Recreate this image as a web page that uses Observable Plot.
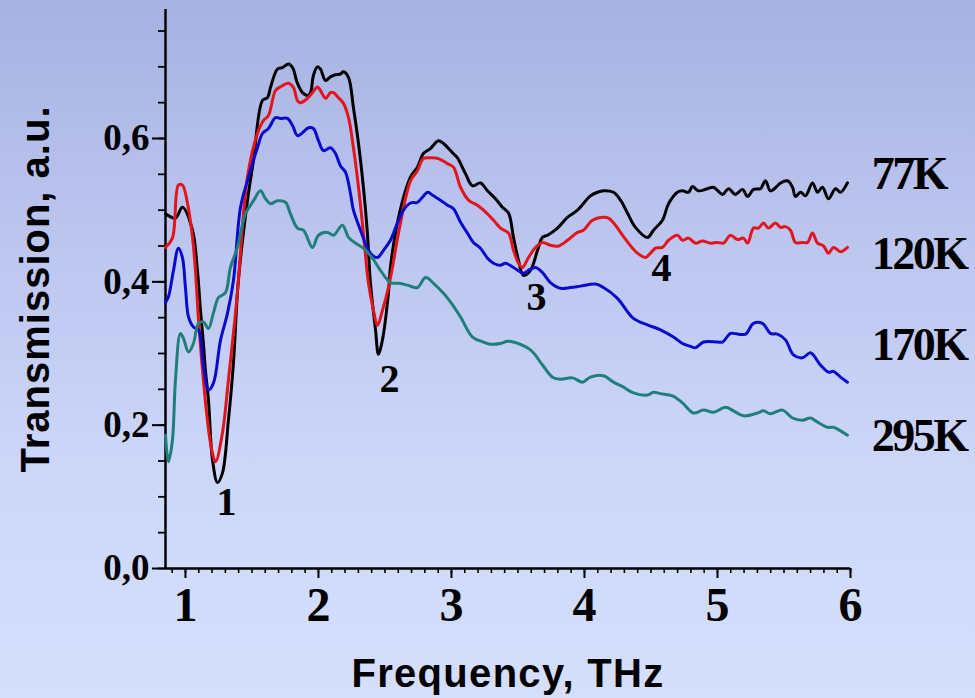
<!DOCTYPE html>
<html>
<head>
<meta charset="utf-8">
<script src="https://cdn.jsdelivr.net/npm/d3@7"></script>
<script src="https://cdn.jsdelivr.net/npm/@observablehq/plot@0.6"></script>
<style>
  html, body { margin: 0; padding: 0; }
  body {
    width: 975px; height: 698px; overflow: hidden;
    background: linear-gradient(to bottom, #a8b2e2 0%, #bcc6ef 35%, #ccd6f8 65%, #d5dffc 100%);
  }
  #chart svg { display: block; }
</style>
</head>
<body>
<div id="chart"></div>
<script>
// Terahertz transmission spectra at four temperatures: [frequency (THz), transmission (a.u.)]
const t77 = [
  [0.850,0.495],[0.925,0.489],[0.977,0.504],[1.053,0.472],[1.090,0.416],[1.113,0.360],[1.135,0.314],[1.150,0.277],
  [1.173,0.235],[1.203,0.152],[1.241,0.120],[1.278,0.133],[1.323,0.207],[1.361,0.287],[1.398,0.402],[1.466,0.513],
  [1.511,0.569],[1.579,0.653],[1.617,0.657],[1.639,0.671],[1.692,0.697],[1.729,0.699],[1.774,0.704],[1.805,0.699],
  [1.842,0.677],[1.880,0.664],[1.917,0.660],[1.940,0.664],[1.962,0.688],[1.992,0.700],[2.015,0.697],[2.053,0.681],
  [2.090,0.686],[2.128,0.689],[2.165,0.690],[2.188,0.693],[2.226,0.685],[2.263,0.643],[2.301,0.593],[2.338,0.532],
  [2.368,0.468],[2.391,0.398],[2.429,0.333],[2.451,0.299],[2.481,0.319],[2.526,0.384],[2.541,0.420],[2.602,0.490],
  [2.692,0.546],[2.744,0.560],[2.789,0.579],[2.842,0.586],[2.902,0.597],[2.940,0.593],[3.008,0.580],[3.045,0.573],
  [3.105,0.551],[3.158,0.534],[3.218,0.538],[3.271,0.527],[3.331,0.516],[3.383,0.504],[3.429,0.496],[3.466,0.462],
  [3.504,0.430],[3.541,0.409],[3.594,0.416],[3.647,0.444],[3.684,0.462],[3.722,0.465],[3.797,0.475],[3.872,0.490],
  [3.947,0.500],[4.045,0.520],[4.098,0.525],[4.143,0.527],[4.218,0.525],[4.271,0.514],[4.323,0.496],[4.383,0.476],
  [4.474,0.462],[4.519,0.472],[4.586,0.486],[4.632,0.509],[4.699,0.525],[4.737,0.527],[4.782,0.525],[4.812,0.533],
  [4.857,0.527],[4.925,0.530],[4.970,0.532],[5.038,0.522],[5.083,0.530],[5.135,0.522],[5.188,0.529],[5.226,0.519],
  [5.271,0.529],[5.323,0.530],[5.361,0.541],[5.398,0.527],[5.451,0.534],[5.474,0.538],[5.526,0.541],[5.564,0.532],
  [5.586,0.519],[5.624,0.525],[5.662,0.520],[5.714,0.538],[5.752,0.525],[5.789,0.532],[5.835,0.516],[5.887,0.530],
  [5.925,0.525],[5.977,0.538]
];
const t120 = [
  [0.850,0.448],[0.902,0.461],[0.947,0.535],[0.977,0.535],[1.015,0.510],[1.053,0.462],[1.075,0.416],[1.098,0.347],
  [1.128,0.277],[1.165,0.207],[1.195,0.168],[1.226,0.149],[1.278,0.189],[1.323,0.263],[1.376,0.356],[1.398,0.402],
  [1.466,0.546],[1.541,0.607],[1.586,0.625],[1.624,0.632],[1.677,0.667],[1.714,0.672],[1.774,0.677],[1.812,0.671],
  [1.842,0.653],[1.865,0.650],[1.917,0.656],[1.955,0.664],[1.992,0.672],[2.015,0.667],[2.053,0.656],[2.090,0.664],
  [2.113,0.664],[2.150,0.657],[2.188,0.649],[2.226,0.629],[2.263,0.587],[2.301,0.532],[2.338,0.468],[2.376,0.398],
  [2.414,0.360],[2.444,0.339],[2.481,0.360],[2.526,0.392],[2.556,0.420],[2.602,0.468],[2.692,0.541],[2.744,0.555],
  [2.789,0.572],[2.842,0.573],[2.902,0.572],[2.970,0.565],[3.015,0.560],[3.068,0.532],[3.128,0.514],[3.195,0.507],
  [3.241,0.500],[3.316,0.486],[3.368,0.475],[3.429,0.468],[3.466,0.444],[3.504,0.426],[3.534,0.420],[3.579,0.434],
  [3.632,0.448],[3.684,0.455],[3.744,0.451],[3.805,0.450],[3.872,0.458],[3.947,0.469],[3.992,0.472],[4.060,0.486],
  [4.135,0.490],[4.180,0.489],[4.233,0.479],[4.286,0.465],[4.331,0.454],[4.398,0.440],[4.459,0.434],[4.496,0.440],
  [4.534,0.447],[4.586,0.448],[4.632,0.458],[4.699,0.465],[4.737,0.458],[4.782,0.461],[4.835,0.454],[4.887,0.457],
  [4.947,0.454],[5.000,0.455],[5.045,0.454],[5.098,0.465],[5.150,0.459],[5.195,0.461],[5.226,0.454],[5.271,0.475],
  [5.308,0.475],[5.346,0.482],[5.383,0.475],[5.436,0.482],[5.474,0.476],[5.511,0.477],[5.549,0.472],[5.586,0.455],
  [5.639,0.455],[5.677,0.455],[5.714,0.468],[5.752,0.454],[5.797,0.450],[5.835,0.440],[5.872,0.448],[5.925,0.442],
  [5.977,0.448]
];
const t170 = [
  [0.850,0.371],[0.872,0.379],[0.910,0.416],[0.947,0.447],[0.977,0.434],[1.000,0.392],[1.023,0.351],[1.060,0.337],
  [1.098,0.333],[1.135,0.284],[1.173,0.249],[1.211,0.259],[1.263,0.318],[1.316,0.356],[1.361,0.402],[1.414,0.504],
  [1.474,0.546],[1.541,0.587],[1.579,0.607],[1.624,0.614],[1.677,0.629],[1.714,0.628],[1.767,0.628],[1.805,0.618],
  [1.842,0.604],[1.880,0.608],[1.925,0.615],[1.962,0.614],[2.000,0.597],[2.038,0.583],[2.090,0.587],[2.128,0.579],
  [2.165,0.562],[2.203,0.553],[2.241,0.523],[2.263,0.500],[2.316,0.472],[2.368,0.447],[2.406,0.437],[2.444,0.434],
  [2.489,0.444],[2.541,0.458],[2.594,0.482],[2.639,0.500],[2.692,0.510],[2.744,0.511],[2.782,0.518],[2.820,0.525],
  [2.865,0.520],[2.917,0.514],[2.970,0.507],[3.015,0.502],[3.068,0.483],[3.120,0.468],[3.165,0.455],[3.218,0.447],
  [3.271,0.433],[3.316,0.426],[3.368,0.423],[3.406,0.426],[3.466,0.420],[3.541,0.412],[3.579,0.416],[3.632,0.420],
  [3.684,0.413],[3.744,0.399],[3.820,0.391],[3.895,0.392],[3.970,0.394],[4.083,0.397],[4.143,0.392],[4.248,0.377],
  [4.368,0.349],[4.474,0.340],[4.571,0.333],[4.669,0.323],[4.737,0.314],[4.797,0.310],[4.835,0.308],[4.895,0.316],
  [5.000,0.316],[5.038,0.316],[5.098,0.328],[5.158,0.327],[5.211,0.327],[5.271,0.342],[5.338,0.342],[5.398,0.328],
  [5.451,0.327],[5.511,0.319],[5.571,0.298],[5.639,0.294],[5.699,0.301],[5.774,0.284],[5.835,0.274],[5.872,0.275],
  [5.925,0.267],[5.977,0.260]
];
const t295 = [
  [0.850,0.186],[0.872,0.149],[0.902,0.179],[0.925,0.263],[0.962,0.328],[0.985,0.321],[1.023,0.302],[1.060,0.314],
  [1.098,0.342],[1.135,0.344],[1.173,0.335],[1.211,0.357],[1.248,0.378],[1.301,0.385],[1.338,0.420],[1.391,0.448],
  [1.451,0.495],[1.511,0.513],[1.564,0.527],[1.602,0.516],[1.639,0.509],[1.692,0.513],[1.752,0.511],[1.789,0.495],
  [1.842,0.475],[1.887,0.472],[1.955,0.448],[2.000,0.465],[2.068,0.469],[2.113,0.465],[2.180,0.479],[2.226,0.462],
  [2.278,0.454],[2.338,0.447],[2.406,0.433],[2.466,0.416],[2.541,0.399],[2.602,0.398],[2.677,0.395],[2.744,0.392],
  [2.805,0.406],[2.865,0.398],[2.940,0.384],[2.992,0.372],[3.068,0.351],[3.158,0.323],[3.241,0.316],[3.293,0.313],
  [3.368,0.314],[3.421,0.317],[3.466,0.316],[3.594,0.305],[3.684,0.284],[3.759,0.267],[3.820,0.264],[3.910,0.266],
  [3.985,0.260],[4.045,0.267],[4.143,0.269],[4.218,0.260],[4.293,0.253],[4.368,0.245],[4.474,0.242],[4.519,0.246],
  [4.571,0.244],[4.662,0.241],[4.737,0.231],[4.820,0.217],[4.895,0.221],[4.970,0.218],[5.060,0.225],[5.120,0.220],
  [5.195,0.213],[5.301,0.217],[5.346,0.220],[5.398,0.216],[5.489,0.221],[5.564,0.210],[5.639,0.207],[5.699,0.210],
  [5.737,0.206],[5.827,0.197],[5.872,0.197],[5.925,0.192],[5.977,0.186]
];

// Series names, colours and where their names sit at the right edge
const seriesNames = ["77K", "120K", "170K", "295K"];
const seriesColors = ["#000000", "#e3141c", "#0a0acc", "#1f7f7a"];
const seriesLabelY = [0.550, 0.438, 0.312, 0.185];
const seriesLabelX = 6.16;

// Numbered absorption dips
const dipNames = ["1", "2", "3", "4"];
const dipX = [1.308, 2.534, 3.639, 4.579];
const dipY = [0.092, 0.264, 0.378, 0.419];

// Axis ticks
const xTicks = [1, 2, 3, 4, 5, 6];
const xMinorTicks = d3.range(9, 61).map(d => d / 10);
const yTicks = [0, 0.2, 0.4, 0.6];
const yMinorTicks = d3.range(0, 16).map(d => d / 20);

// Axis titles
const xTitle = "Frequency, THz";
const yTitle = "Transmission, a.u.";

const spectra = [t77, t120, t170, t295].flatMap((s, i) =>
  s.map(([f, t]) => ({freq: f, trans: t, series: seriesNames[i]})));
const seriesLabels = seriesNames.map((name, i) => ({name, x: seriesLabelX, y: seriesLabelY[i]}));
const dips = dipNames.map((name, i) => ({name, x: dipX[i], y: dipY[i]}));

const serif = "'Liberation Serif', 'Times New Roman', serif";
const sans = "'Liberation Sans', Arial, sans-serif";

const chart = Plot.plot({
  width: 975,
  height: 698,
  marginLeft: 165,
  marginRight: 125,
  marginTop: 9,
  marginBottom: 130,
  style: {background: "transparent", overflow: "visible"},
  x: {domain: [0.85, 6]},
  y: {domain: [0, 0.78]},
  color: {domain: seriesNames, range: seriesColors},
  marks: [
    // minor and major ticks
    Plot.axisX(xMinorTicks, {tickSize: 5, text: null, strokeWidth: 1.6, stroke: "#000"}),
    Plot.axisX(xTicks, {
      tickSize: 10, tickPadding: 8, strokeWidth: 2, stroke: "#000", fill: "#000",
      fontSize: 48, fontFamily: serif, fontWeight: "bold", label: null,
      tickFormat: d => String(d)
    }),
    Plot.axisY(yMinorTicks, {tickSize: 7, text: null, strokeWidth: 1.8, stroke: "#000"}),
    Plot.axisY(yTicks, {
      tickSize: 13, tickPadding: 3, strokeWidth: 2, stroke: "#000", fill: "#000",
      fontSize: 37, fontFamily: serif, fontWeight: "bold", label: null,
      tickFormat: d => d.toFixed(1).replace(".", ",")
    }),
    // axis lines
    Plot.ruleY([0], {stroke: "#000", strokeWidth: 2.5}),
    Plot.ruleX([0.85], {stroke: "#000", strokeWidth: 2.5}),
    // spectra
    Plot.line(spectra, {
      x: "freq", y: "trans", z: "series", stroke: "series",
      strokeWidth: 3, curve: "catmull-rom"
    }),
    // series names
    Plot.text(seriesLabels, {
      x: "x", y: "y", text: "name", textAnchor: "start",
      fontSize: 46, fontFamily: serif, fontWeight: "bold", fill: "#000"
    }),
    // dip numbers
    Plot.text(dips, {
      x: "x", y: "y", text: "name",
      fontSize: 40, fontFamily: serif, fontWeight: "bold", fill: "#000"
    }),
    // axis titles
    Plot.text([xTitle], {
      frameAnchor: "bottom", textAnchor: "middle", lineAnchor: "middle", dy: 106, text: d => d,
      fontSize: 40, fontFamily: sans, fontWeight: "bold", fill: "#000"
    }),
    Plot.text([yTitle], {
      frameAnchor: "left", textAnchor: "middle", lineAnchor: "middle", dx: -129, rotate: -90, text: d => d,
      fontSize: 40, fontFamily: sans, fontWeight: "bold", fill: "#000"
    })
  ]
});

// tight kerning for the series names, slightly open spacing for the axis titles
chart.querySelectorAll("text").forEach(t => {
  if (seriesNames.includes(t.textContent)) t.setAttribute("letter-spacing", "-2.5");
  if (t.textContent === xTitle) t.setAttribute("letter-spacing", "1.3");
  if (t.textContent === yTitle) t.setAttribute("letter-spacing", "1");
});

document.getElementById("chart").appendChild(chart);
</script>
</body>
</html>
